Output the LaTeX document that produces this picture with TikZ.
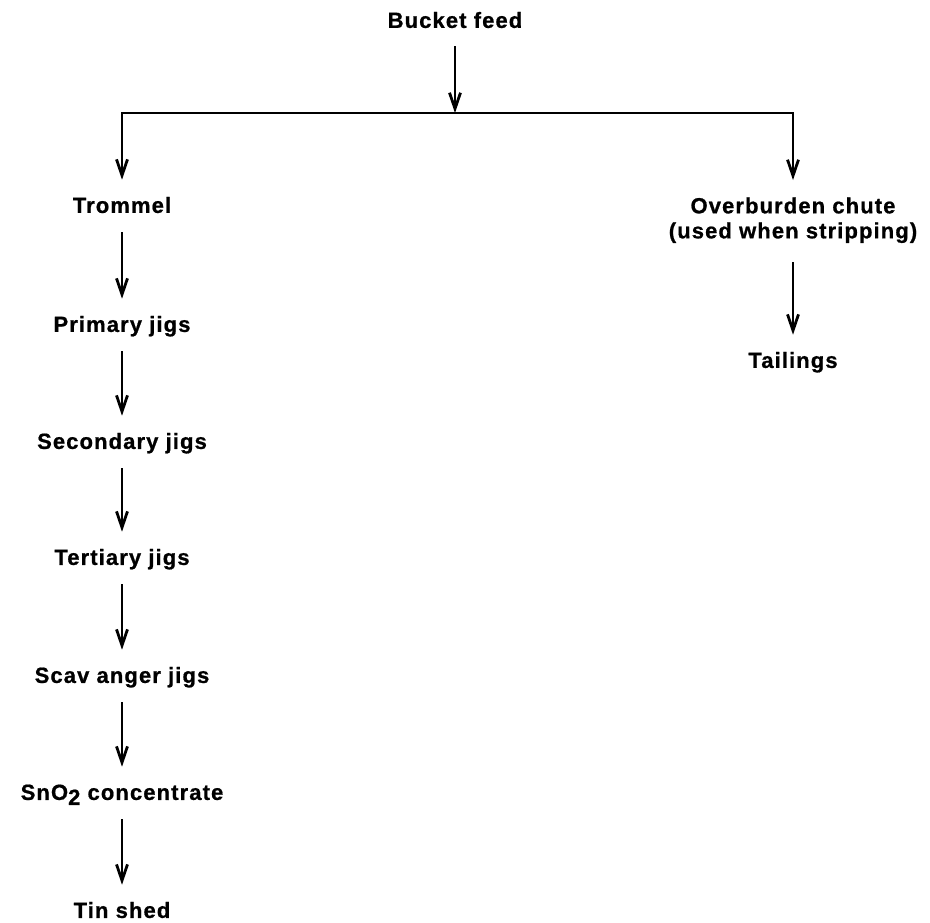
\documentclass[tikz,border=0pt]{standalone}
\usepackage{fontspec}
\setmainfont{Liberation Sans}[LetterSpace=5,BoldFeatures={FakeBold=0.8}]
\usetikzlibrary{arrows.meta}

\tikzset{
    lbl/.style={font=\fontsize{11}{12.5}\selectfont\bfseries, inner sep=0pt, text height=7.9pt, text depth=0pt},
    tip/.style={-{Straight Barb[length=8pt,width=5.5pt,line width=1.4pt]}, line width=0.8pt},
    flow/.style={tip, shorten <=9.5pt, shorten >=8.5pt},
    drop/.style={tip, shorten >=8.5pt}
}

\begin{document}
\begin{tikzpicture}[x=0.5pt,y=-0.5pt]
        \useasboundingbox (0,0) rectangle (930,922);
        \node[lbl] (feed) at (455,20) {Bucket feed};
        \coordinate (split) at (455,113);
        \node[lbl] (trommel) at (122,205) {Trommel};
        \node[lbl] (primary) at (122,324) {Primary jigs};
        \node[lbl] (secondary) at (122,441) {Secondary jigs};
        \node[lbl] (tertiary) at (122,557) {Tertiary jigs};
        \node[lbl] (scavanger) at (122,675) {Scav anger jigs};
        \node[lbl] (conc) at (122,792) {SnO\raisebox{-2.5pt}{2} concentrate};
        \node[lbl] (tin) at (122,910) {Tin shed};
        \node[lbl, text height=, text depth=, align=center, anchor=north] (chute) at (793,197)
            {Overburden chute\\(used when stripping)};
        \node[lbl] (tailings) at (793,360) {Tailings};
        % feed splits to plant and chute
        \draw[tip, shorten <=9pt] (feed) -- (split);
        \draw[drop] (split) -| (trommel);
        \draw[drop] (split) -| (chute);
        % jig line
        \draw[flow] (trommel) -- (primary);
        \draw[flow] (primary) -- (secondary);
        \draw[flow] (secondary) -- (tertiary);
        \draw[flow] (tertiary) -- (scavanger);
        \draw[flow] (scavanger) -- (conc);
        \draw[flow] (conc) -- (tin);
        \draw[flow] (chute) -- (tailings);
\end{tikzpicture}
\end{document}
